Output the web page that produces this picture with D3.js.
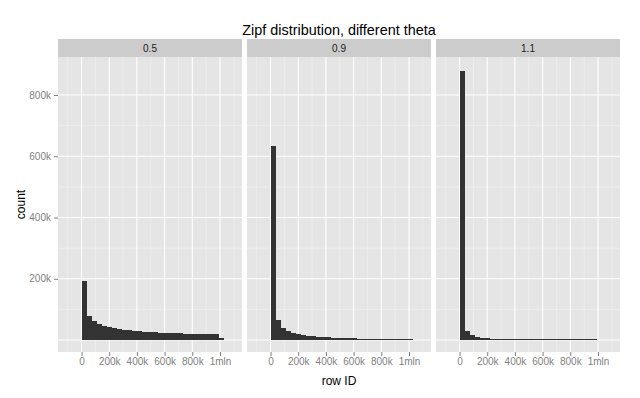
<!DOCTYPE html>
<html>
<head>
<meta charset="utf-8">
<script src="https://cdn.jsdelivr.net/npm/d3@7"></script>
<style>
  html, body { margin: 0; padding: 0; background: #fff; }
  svg { display: block; font-family: "Liberation Sans", Arial, sans-serif; }
</style>
</head>
<body>
<svg id="chart" width="640" height="398"></svg>
<script>
// ---- data ----
const thetas = ["0.5", "0.9", "1.1"];
const binWidth = 36667;
const countsTheta05 = [192000, 78000, 61000, 51000, 45000, 41000, 37800, 35000, 32800, 31200,
  29600, 28600, 27800, 26100, 25200, 24400, 23000, 22600, 22300, 21800, 21300, 20200, 19900,
  19600, 19300, 19000, 18700, 5500];
const countsTheta09 = [633000, 66000, 40500, 30500, 24500, 18500, 17500, 14500, 12000, 11500,
  11000, 8500, 8200, 7900, 7600, 7400, 7200, 5000, 4900, 4800, 4700, 4600, 4500, 4400, 4300,
  4200, 4100, 2200];
const countsTheta11 = [878000, 28000, 15000, 8500, 8000, 5200, 5000, 4800, 3400, 3350, 3300,
  3300, 3250, 3250, 3200, 3200, 3150, 3150, 3100, 3100, 3100, 3050, 3050, 3000, 3000, 3000,
  3000, 300];
const seriesCounts = [countsTheta05, countsTheta09, countsTheta11];
const xMajor = [0, 200000, 400000, 600000, 800000, 1000000];
const xMajorLabels = ["0", "200k", "400k", "600k", "800k", "1mln"];
const xMinor = [-100000, 100000, 300000, 500000, 700000, 900000, 1100000];
const yMajor = [0, 200000, 400000, 600000, 800000];
const yMajorLabels = ["", "200k", "400k", "600k", "800k"];
const yMinor = [100000, 300000, 500000, 700000];
const title = "Zipf distribution, different theta";
const xTitle = "row ID";
const yTitle = "count";

// ---- layout ----
const svg = d3.select("#chart");
const panelLefts = [58, 247, 436];
const panelW = 184;
const panelTop = 57, panelBottom = 352;
const stripTop = 39;

const y = d3.scaleLinear().domain([-39000, 924000]).range([panelBottom, panelTop]);
const xDomain = [-170000, 1159000];

// title
svg.append("text").attr("x", 339).attr("y", 35).attr("text-anchor", "middle")
  .attr("font-size", 14.4).attr("fill", "#000").text(title);

thetas.forEach((th, p) => {
  const left = panelLefts[p];
  const x = d3.scaleLinear().domain(xDomain).range([left, left + panelW]);
  const g = svg.append("g");
  // strip
  g.append("rect").attr("x", left).attr("y", stripTop).attr("width", panelW)
    .attr("height", panelTop - stripTop).attr("fill", "#CCCCCC");
  g.append("text").attr("x", left + panelW / 2).attr("y", 51.5).attr("text-anchor", "middle")
    .attr("font-size", 10).attr("fill", "#1A1A1A").text(th);
  // panel bg
  g.append("rect").attr("x", left).attr("y", panelTop).attr("width", panelW)
    .attr("height", panelBottom - panelTop).attr("fill", "#E5E5E5");
  // minor grid
  g.selectAll(".vmin").data(xMinor).join("line")
    .attr("x1", d => x(d)).attr("x2", d => x(d)).attr("y1", panelTop).attr("y2", panelBottom)
    .attr("stroke", "#F2F2F2").attr("stroke-width", 0.6);
  g.selectAll(".hmin").data(yMinor).join("line")
    .attr("x1", left).attr("x2", left + panelW).attr("y1", d => y(d)).attr("y2", d => y(d))
    .attr("stroke", "#F2F2F2").attr("stroke-width", 0.6);
  // major grid
  g.selectAll(".vmaj").data(xMajor).join("line")
    .attr("x1", d => x(d)).attr("x2", d => x(d)).attr("y1", panelTop).attr("y2", panelBottom)
    .attr("stroke", "#FFFFFF").attr("stroke-width", 1.1);
  g.selectAll(".hmaj").data(yMajor).join("line")
    .attr("x1", left).attr("x2", left + panelW).attr("y1", d => y(d)).attr("y2", d => y(d))
    .attr("stroke", "#FFFFFF").attr("stroke-width", 1.1);
  // bars
  const counts = seriesCounts[p];
  g.selectAll(".bar").data(counts).join("rect")
    .attr("x", (d, i) => x(i * binWidth))
    .attr("width", (d, i) => x((i + 1) * binWidth) - x(i * binWidth))
    .attr("y", d => y(d))
    .attr("height", d => y(0) - y(d))
    .attr("fill", "#333333")
    .attr("shape-rendering", "crispEdges");
  // x axis
  const xa = svg.append("g").attr("transform", `translate(0,${panelBottom})`)
    .call(d3.axisBottom(x).tickValues(xMajor).tickFormat((d, i) => xMajorLabels[i])
      .tickSizeInner(4).tickSizeOuter(0).tickPadding(2));
  xa.select(".domain").remove();
  xa.selectAll("line").attr("stroke", "#7F7F7F");
  xa.selectAll("text").attr("fill", "#7F7F7F").attr("font-size", 10)
    .attr("font-family", "Liberation Sans, Arial, sans-serif");
});

// y axis
const ya = svg.append("g").attr("transform", `translate(${panelLefts[0]},0)`)
  .call(d3.axisLeft(y).tickValues(yMajor.slice(1)).tickFormat((d, i) => yMajorLabels[i + 1])
    .tickSizeInner(4).tickSizeOuter(0).tickPadding(3));
ya.select(".domain").remove();
ya.selectAll("line").attr("stroke", "#7F7F7F");
ya.selectAll("text").attr("fill", "#7F7F7F").attr("font-size", 10)
  .attr("font-family", "Liberation Sans, Arial, sans-serif");

// axis titles
svg.append("text").attr("x", 339).attr("y", 385).attr("text-anchor", "middle")
  .attr("font-size", 12).attr("fill", "#000").text(xTitle);
svg.append("text").attr("transform", "translate(25,204.5) rotate(-90)")
  .attr("text-anchor", "middle").attr("font-size", 12).attr("fill", "#000").text(yTitle);
</script>
</body>
</html>
